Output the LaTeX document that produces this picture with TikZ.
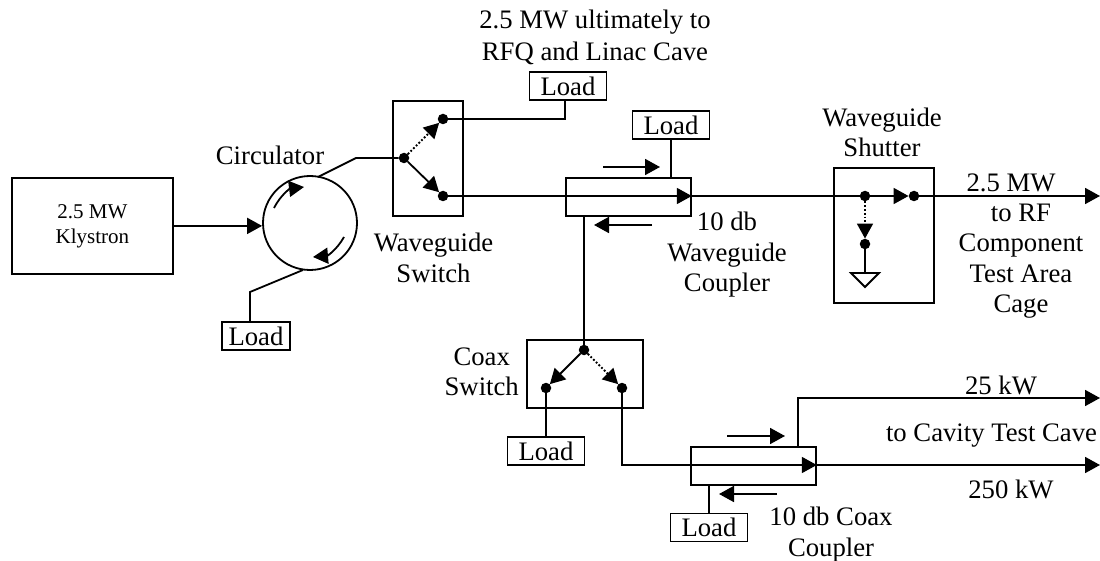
\documentclass[tikz,border=0pt]{standalone}
\usepackage{fontspec}
\setmainfont{Liberation Serif}
\usetikzlibrary{arrows.meta}
\tikzset{
  x=1pt,y=-1pt,
  ln/.style={line width=1.8pt,line join=miter},
  arr/.style={ln,-{Triangle[length=15pt,width=16pt]}},
  dotarr/.style={line width=1.8pt,dotted,-{Triangle[length=15pt,width=16pt]}},
  box/.style={draw,line width=1.8pt,anchor=north west,inner sep=0pt},
  loadbox/.style={draw,line width=1.8pt,minimum width=77pt,minimum height=28pt,inner sep=0pt,font=\fontsize{26.7}{28}\selectfont},
  dotn/.style={circle,fill=black,minimum size=10.5pt,inner sep=0pt},
  lab/.style={align=center,inner sep=0pt,font=\fontsize{26.7}{30.5}\selectfont},
}
\begin{document}
\begin{tikzpicture}
\useasboundingbox (0,0) rectangle (1100,561);
% Klystron and circulator
\node[box,minimum width=161pt,minimum height=96pt,align=center,font=\fontsize{21}{25}\selectfont] (kly) at (11,177) {2.5 MW\\Klystron};
\node[circle,draw,line width=1.8pt,minimum size=94pt,inner sep=0pt] (circ) at (310,223) {};
\draw[arr] (kly.east) -- (kly.east -| circ.west);
\coordinate (c1) at (274,208); \coordinate (c2) at (304,187);
\coordinate (c3) at (344,237); \coordinate (c4) at (313,257);
\draw[arr] (c1) to[bend left=28] (c2);
\draw[arr] (c3) to[bend left=28] (c4);
\node[lab] (tcirc) at (270,155) {Circulator};
% load at circulator
\node[loadbox,minimum width=68pt] (load1) at (256,336) {Load};
\coordinate (l1a) at (303,270); \coordinate (l1b) at (250,292);
\draw[ln] (l1a) -- (l1b) -- (l1b |- load1.north);
% waveguide switch
\node[box,minimum width=70pt,minimum height=115pt] (wsw) at (392,100) {};
\node[dotn] (wa) at (404,158) {};
\node[dotn] (wb) at (443,119) {};
\node[dotn] (wc) at (443,196) {};
\coordinate (c5) at (318,177); \coordinate (c6) at (356,158);
\draw[ln] (c5) -- (c6) -- (wa);
\draw[dotarr] (wa) -- (wb);
\draw[arr] (wa) -- (wc);
\node[lab] (twsw) at (433.5,258) {Waveguide\\Switch};
% top load
\node[loadbox] (load2) at (568,86) {Load};
\coordinate (l2a) at (565,119);
\draw[ln] (wb) -- (l2a) -- (l2a |- load2.south);
\node[lab,font=\fontsize{26.7}{32}\selectfont] (ttop) at (595,37) {2.5 MW ultimately to\\RFQ and Linac Cave};
% waveguide coupler
\node[box,minimum width=125pt,minimum height=38pt] (wc1) at (565,177) {};
\node[loadbox] (load3) at (671,125) {Load};
\draw[ln] (load3.south) -- (load3.south |- wc1.north);
\coordinate (a1) at (603,167); \coordinate (a2) at (660,167);
\coordinate (a3) at (652,225); \coordinate (a4) at (594,225);
\draw[arr] (a1) -- (a2);
\draw[arr] (a3) -- (a4);
\draw[arr] (wc) -- (wc -| wc1.east);
\node[lab] (twc) at (727,255) {10 db\\Waveguide\\Coupler};
% shutter
\node[box,minimum width=100pt,minimum height=135pt] (sh) at (833,167) {};
\node[dotn] (sa) at (865,196) {};
\node[dotn] (sb) at (914,196) {};
\node[dotn] (sc) at (865,244) {};
\coordinate (out1) at (1100,196);
\draw[ln] (wc -| wc1.east) -- (sa);
\draw[arr] (sa) -- (sb);
\draw[arr] (sb) -- (out1);
\draw[dotarr] (sa) -- (sc);
\coordinate (tri) at (865,273);
\draw[ln] (sc) -- (tri);
\draw[line width=1.8pt,line join=miter] (851,273) -- (879,273) -- (865,287) -- cycle;
\node[lab] (tsh) at (882,132.5) {Waveguide\\Shutter};
\node[lab] (t25) at (1011,183) {2.5 MW};
\node[lab] (trf) at (1021,261) {to RF\\Component\\Test Area\\Cage};
% coax switch
\node[box,minimum width=116pt,minimum height=68pt] (csw) at (526,339) {};
\node[dotn] (ca) at (584,350) {};
\node[dotn] (cb) at (546,388) {};
\node[dotn] (cc) at (622,388) {};
\draw[ln] (wc1.south -| ca) -- (ca);
\draw[arr] (ca) -- (cb);
\draw[dotarr] (ca) -- (cc);
\node[lab,anchor=east] (tcsw) at (519,372) {Coax\\Switch};
\node[loadbox] (load4) at (546,451) {Load};
\draw[ln] (cb) -- (load4.north -| cb);
% coax coupler
\node[box,minimum width=125pt,minimum height=38pt] (cc1) at (690,446) {};
\coordinate (cl) at (622,465);
\coordinate (out2) at (1100,465);
\draw[ln] (cc) -- (cl) -- (cc1.west |- cl);
\draw[arr] (cc1.west |- cl) -- (cc1.east |- cl);
\draw[arr] (cc1.east |- cl) -- (out2);
\coordinate (ub) at (798,398); \coordinate (out3) at (1100,398);
\draw[arr] (ub |- cc1.north) -- (ub) -- (out3);
\coordinate (b1) at (727,436); \coordinate (b2) at (785,436);
\coordinate (b3) at (777,494); \coordinate (b4) at (719,494);
\draw[arr] (b1) -- (b2);
\draw[arr] (b3) -- (b4);
\node[loadbox] (load5) at (709,527.5) {Load};
\draw[ln] (load5.north) -- (cc1.south -| load5.north);
\node[lab] (t25k) at (1001,385) {25 kW};
\node[lab] (tcav) at (991.5,436) {to Cavity Test Cave};
\node[lab] (t250) at (1011,489) {250 kW};
\node[lab] (tcc) at (831,534.5) {10 db Coax\\Coupler};
\end{tikzpicture}
\end{document}
